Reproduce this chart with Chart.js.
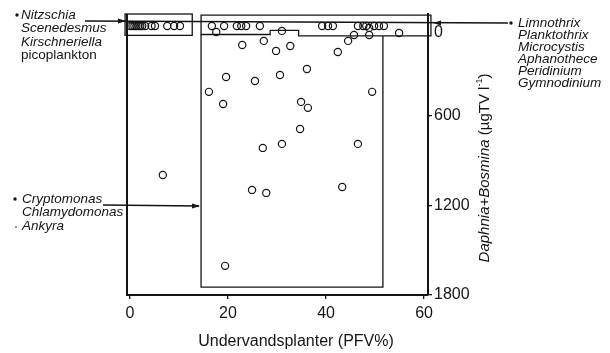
<!DOCTYPE html>
<html lang="da">
<head>
<meta charset="UTF-8">
<title>Daphnia+Bosmina og undervandsplanter</title>
<script src="https://cdn.jsdelivr.net/npm/chart.js"></script>
<style>
  html, body { margin: 0; padding: 0; background: #fff; }
  #wrap { width: 610px; height: 353px; }
</style>
</head>
<body>
<div id="wrap"><canvas id="myChart" width="610" height="353"></canvas></div>
<script>
    // plant cover (PFV %) and Daphnia+Bosmina biomass (ug TV/l) per lake
    const pfv = [
        0.1, 0.5, 0.9, 1.3, 1.7, 2.1, 2.5, 3.1, 4.4, 5.1, 7.6, 9.0, 10.2,
        16.7, 17.6, 19.2, 21.8, 22.7, 23.7, 26.5, 31.0, 39.2, 40.4, 41.4,
        46.5, 47.6, 48.2, 48.8, 49.8, 50.8, 51.8, 45.7, 48.8, 54.9, 44.5,
        22.9, 27.3, 29.8, 32.7, 42.4, 36.1, 19.6, 25.5, 30.6, 16.1, 19.0,
        34.9, 36.3, 49.4, 34.7, 31.0, 27.1, 46.5, 6.7, 24.9, 27.8, 43.3, 19.4
    ];
    const zoo = [
        0, 0, 0, 0, 0, 0, 0, 0, 0, 0, 0, 0, 0,
        0, 40, 0, 0, 0, 0, 0, 33, 0, 0, 0,
        0, 0, 0, 13, 0, 0, 0, 60, 60, 47, 100,
        127, 100, 167, 134, 174, 288, 341, 368, 328, 441, 522,
        508, 548, 441, 689, 789, 816, 789, 997, 1097, 1117, 1077, 1605
    ];
    const xTicks = [0, 20, 40, 60];
    const yTicks = [0, 600, 1200, 1800];
    const xTitle = 'Undervandsplanter (PFV%)';

    const groupTop = ['Nitzschia', 'Scenedesmus', 'Kirschneriella', 'picoplankton'];
    const groupRight = ['Limnothrix', 'Planktothrix', 'Microcystis', 'Aphanothece', 'Peridinium', 'Gymnodinium'];
    const groupMid = ['Cryptomonas', 'Chlamydomonas', 'Ankyra'];

    const ink = '#151515';
    const face = '"Liberation Sans", Arial, sans-serif';

    const points = pfv.map((v, i) => ({ x: v, y: zoo[i] }));

    function arrowHead(ctx, x, y, dir) {
        ctx.beginPath();
        ctx.moveTo(x, y);
        ctx.lineTo(x - dir * 8, y - 2.6);
        ctx.lineTo(x - dir * 8, y + 2.6);
        ctx.closePath();
        ctx.fill();
    }

    function dot(ctx, x, y, r) {
        ctx.beginPath();
        ctx.arc(x, y, r, 0, Math.PI * 2);
        ctx.fill();
    }

    const frame = {
        id: 'frame',
        beforeDatasetsDraw(chart) {
            const { ctx, chartArea: a, scales } = chart;
            const px = v => scales.x.getPixelForValue(v);
            const py = v => scales.y.getPixelForValue(v);
            ctx.save();
            ctx.strokeStyle = ink;
            ctx.fillStyle = ink;

            // left frame line
            ctx.lineWidth = 2;
            ctx.beginPath();
            ctx.moveTo(a.left, py(-80));
            ctx.lineTo(a.left, a.bottom + 1);
            ctx.stroke();

            ctx.lineWidth = 1.3;
            // box round the picoplankton group
            ctx.strokeRect(px(-1.0), py(-80), px(12.7) - px(-1.0), py(63) - py(-80));

            // strip with the blue-green / dinoflagellate lakes
            ctx.beginPath();
            ctx.moveTo(px(14.5), py(-73));
            ctx.lineTo(px(61.4), py(-73));
            ctx.lineTo(px(61.4), py(67));
            ctx.lineTo(px(34.4), py(67));
            ctx.lineTo(px(34.4), py(30));
            ctx.lineTo(px(28.6), py(30));
            ctx.lineTo(px(28.6), py(57));
            ctx.lineTo(px(14.5), py(57));
            ctx.closePath();
            ctx.stroke();

            // tall box for the Cryptomonas group
            ctx.beginPath();
            ctx.moveTo(px(14.5), py(57));
            ctx.lineTo(px(14.5), py(1747));
            ctx.lineTo(px(51.6), py(1747));
            ctx.lineTo(px(51.6), py(67));
            ctx.stroke();

            // pointer lines from the group labels
            ctx.beginPath();
            ctx.moveTo(85, 21);
            ctx.lineTo(508, 23);
            ctx.moveTo(103, 205);
            ctx.lineTo(199, 206);
            ctx.stroke();
            arrowHead(ctx, 126, 21, 1);
            arrowHead(ctx, 433, 23, -1);
            arrowHead(ctx, 200, 206, 1);
            ctx.restore();
        },
        afterDraw(chart) {
            const { ctx, chartArea: a } = chart;
            ctx.save();
            ctx.fillStyle = ink;
            ctx.textBaseline = 'middle';
            ctx.textAlign = 'left';

            // zero label sits just below the pointer line
            ctx.font = '16px ' + face;
            ctx.fillText(String(yTicks[0]), a.right + 6, 33);

            // group labels
            groupTop.forEach((t, i) => {
                ctx.font = (i < 3 ? 'italic ' : '') + '13.5px ' + face;
                ctx.fillText(t, 21, 15 + i * 13.5);
            });
            dot(ctx, 17, 15, 1.7);

            ctx.font = 'italic 13.5px ' + face;
            groupRight.forEach((t, i) => ctx.fillText(t, 518, 23 + i * 12));
            dot(ctx, 511, 23, 1.7);

            ctx.font = 'italic 13.5px ' + face;
            groupMid.forEach((t, i) => ctx.fillText(t, 22, 199 + i * 13.5));
            dot(ctx, 15, 199, 1.7);
            dot(ctx, 16, 227, 0.8);

            // x axis title
            ctx.textAlign = 'center';
            ctx.font = '16px ' + face;
            ctx.fillText(xTitle, 296, 342);

            // y axis title, read from bottom to top
            ctx.translate(485, 168);
            ctx.rotate(-Math.PI / 2);
            const parts = [
                { t: 'Daphnia+Bosmina', f: 'italic 15px ' + face, dy: 0 },
                { t: ' (\u00b5gTV l', f: '15px ' + face, dy: 0 },
                { t: '-1', f: '9px ' + face, dy: -5 },
                { t: ')', f: '15px ' + face, dy: 0 }
            ];
            let total = 0;
            parts.forEach(p => { ctx.font = p.f; p.w = ctx.measureText(p.t).width; total += p.w; });
            let cx = -total / 2;
            ctx.textAlign = 'left';
            parts.forEach(p => {
                ctx.font = p.f;
                ctx.fillText(p.t, cx, p.dy);
                cx += p.w;
            });
            ctx.restore();
        }
    };

    const config = {
        type: 'scatter',
        data: {
            datasets: [{
                data: points,
                pointRadius: 3.6,
                pointHoverRadius: 3.6,
                borderWidth: 1.2,
                borderColor: ink,
                backgroundColor: 'rgba(0,0,0,0)'
            }]
        },
        options: {
            responsive: false,
            animation: false,
            layout: { padding: { left: 127, right: 120, top: 14, bottom: 0 } },
            plugins: {
                legend: { display: false },
                tooltip: { enabled: false }
            },
            scales: {
                x: {
                    type: 'linear',
                    min: -0.61,
                    max: 60.8,
                    afterBuildTicks: s => { s.ticks = xTicks.map(v => ({ value: v })); },
                    afterFit: s => { s.height = 58; },
                    ticks: {
                        color: ink,
                        padding: 5,
                        font: { family: face, size: 16 }
                    },
                    grid: { drawOnChartArea: false, tickLength: 4, color: ink, lineWidth: 1.3 },
                    border: { display: true, color: ink, width: 2 }
                },
                y: {
                    type: 'linear',
                    position: 'right',
                    reverse: true,
                    min: -80,
                    max: 1800,
                    afterBuildTicks: s => { s.ticks = yTicks.map(v => ({ value: v })); },
                    afterFit: s => { s.width = 62; },
                    ticks: {
                        color: ink,
                        padding: 2,
                        font: { family: face, size: 16 },
                        // the zero label is drawn by the frame plugin
                        callback: v => (v === 0 ? '' : String(v))
                    },
                    grid: {
                        drawOnChartArea: false,
                        tickLength: 4,
                        lineWidth: 1.3,
                        color: c => (c.tick && c.tick.value === 0 ? 'rgba(0,0,0,0)' : ink)
                    },
                    border: { display: true, color: ink, width: 2 }
                }
            }
        },
        plugins: [frame]
    };

    const myChart = new Chart(document.getElementById('myChart'), config);
</script>
</body>
</html>
